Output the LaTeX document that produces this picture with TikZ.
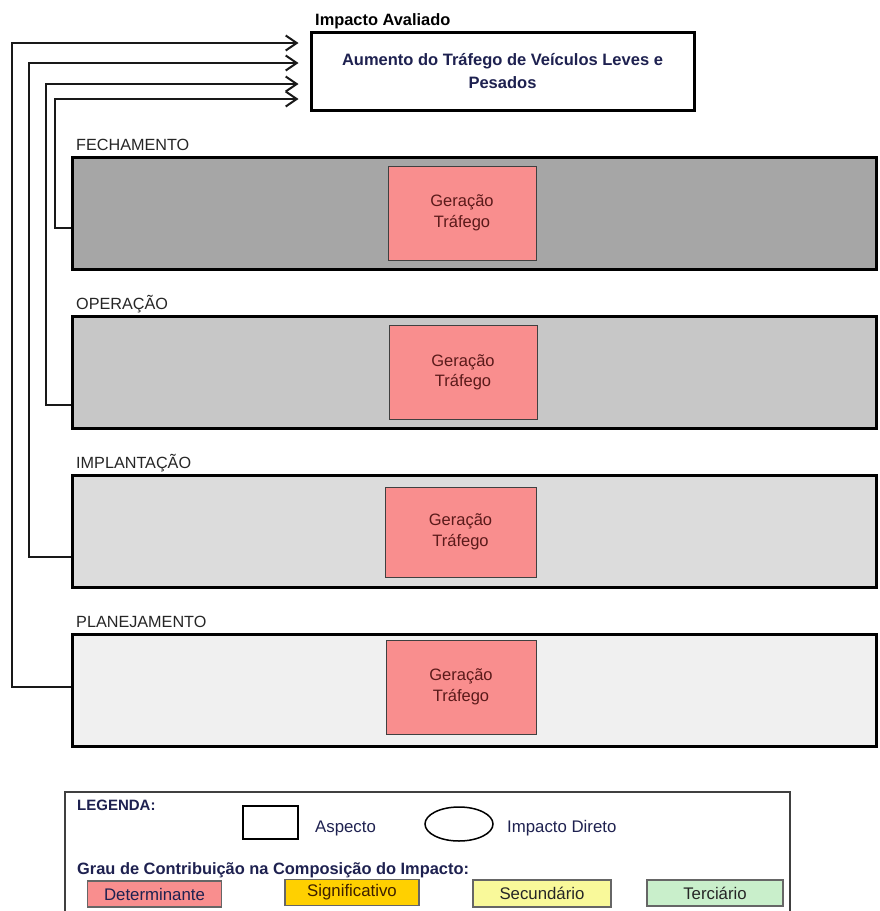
\documentclass[tikz,border=0pt]{standalone}
\usepackage{fontspec}
\setmainfont{Liberation Sans}
\usetikzlibrary{arrows.meta,shapes.geometric}

\definecolor{fechfill}{HTML}{A6A6A6}
\definecolor{operfill}{HTML}{C7C7C7}
\definecolor{implfill}{HTML}{DCDCDC}
\definecolor{planfill}{HTML}{F0F0F0}
\definecolor{pinkfill}{HTML}{F98E8E}
\definecolor{geratext}{HTML}{5A1A1A}
\definecolor{navytext}{HTML}{1E2150}
\definecolor{signfill}{HTML}{FFD000}
\definecolor{secfill}{HTML}{F9F99A}
\definecolor{terfill}{HTML}{C9EFCB}

\begin{document}
\begin{tikzpicture}[x=1pt,y=-1pt,
  phasebox/.style={draw=black, line width=3pt, minimum width=804pt,
    minimum height=112pt, inner sep=0pt},
  phaselabel/.style={anchor=west, inner sep=0pt, text=black!85,
    font=\fontsize{16.2}{18}\selectfont},
  aspbox/.style={draw=black!75, line width=1pt, fill=pinkfill,
    minimum width=148pt, minimum height=94pt, align=center, text=geratext,
    font=\fontsize{16.5}{20.5}\selectfont},
  conn/.style={line width=2pt, black!90,
    -{Straight Barb[length=11pt,width=15pt]}},
  legtext/.style={anchor=west, inner sep=0pt, text=navytext,
    font=\fontsize{16.8}{18}\selectfont},
  gradebox/.style={draw=black!60, line width=1.2pt, minimum width=134pt,
    minimum height=26pt, inner sep=0pt, font=\fontsize{16.8}{18}\selectfont}
]
\clip (0,0) rectangle (880,911);
\fill[white] (0,0) rectangle (880,911);

% evaluated impact
\node[anchor=west, inner sep=0pt, font=\bfseries\fontsize{16.4}{18}\selectfont]
  (title) at (315,21) {Impacto Avaliado};
\node[draw=black, line width=3pt, minimum width=383pt, minimum height=78pt,
  inner sep=0pt, align=center, text=navytext,
  font=\bfseries\fontsize{16.5}{23}\selectfont]
  (top) at (502.5,71) {Aumento do Tráfego de Veículos Leves e\\Pesados};

% project phases
\node[phaselabel] (lfech) at (76,145) {FECHAMENTO};
\node[phasebox, fill=fechfill] (fech) at (474,213) {};
\node[aspbox] (afech) at (462,213) {Geração\\Tráfego};

\node[phaselabel] (loper) at (76,304) {OPERAÇÃO};
\node[phasebox, fill=operfill] (oper) at (474,372) {};
\node[aspbox] (aoper) at (463,372.5) {Geração\\Tráfego};

\node[phaselabel] (limpl) at (76,463) {IMPLANTAÇÃO};
\node[phasebox, fill=implfill] (impl) at (474,531.5) {};
\node[aspbox, minimum width=151pt, minimum height=90pt] (aimpl) at (460.5,532) {Geração\\Tráfego};

\node[phaselabel] (lplan) at (76,622) {PLANEJAMENTO};
\node[phasebox, fill=planfill] (plan) at (474,690.5) {};
\node[aspbox, minimum width=150pt] (aplan) at (461,687) {Geração\\Tráfego};

% connectors from each phase to the impact
\draw[conn] ([yshift=-15pt]fech.west) -- ++(-16,0) |- ([xshift=-11pt,yshift=-28pt]top.west);
\draw[conn] ([yshift=-33pt]oper.west) -- ++(-25,0) |- ([xshift=-11pt,yshift=-13pt]top.west);
\draw[conn] ([yshift=-25.5pt]impl.west) -- ++(-42,0) |- ([xshift=-11pt,yshift=8pt]top.west);
\draw[conn] ([yshift=3.5pt]plan.west) -- ++(-59,0) |- ([xshift=-11pt,yshift=28pt]top.west);

% legend
\node[draw=black!75, line width=1.6pt, minimum width=725pt, minimum height=160pt,
  anchor=north west, inner sep=0pt] (leg) at (64,791) {};
\node[anchor=west, inner sep=0pt, text=navytext,
  font=\bfseries\fontsize{15}{18}\selectfont] (legt) at (77,805) {LEGENDA:};
\node[draw=black, line width=1.5pt, minimum width=55pt, minimum height=33pt,
  inner sep=0pt] (legasp) at (270.5,822.5) {};
\node[legtext] (legasptxt) at (315,828) {Aspecto};
\node[draw=black, line width=1.5pt, ellipse, minimum width=68pt,
  minimum height=34pt, inner sep=0pt] (legimp) at (459,824) {};
\node[legtext] (legimptxt) at (507,828) {Impacto Direto};
\node[anchor=west, inner sep=0pt, text=navytext,
  font=\bfseries\fontsize{16.4}{18}\selectfont] (grau) at (77,870)
  {Grau de Contribuição na Composição do Impacto:};
\node[gradebox, fill=pinkfill, text=navytext] (gdet) at (154.5,894) {Determinante};
\node[gradebox, fill=signfill, text=black!60!orange!60!black] (gsig) at (352,892.5) {Significativo};
\node[gradebox, fill=secfill, minimum width=138pt, minimum height=27pt, text=black!85] (gsec) at (542,893.5) {Secundário};
\node[gradebox, fill=terfill, minimum width=136pt, text=black!85] (gter) at (715,893) {Terciário};
\end{tikzpicture}
\end{document}
